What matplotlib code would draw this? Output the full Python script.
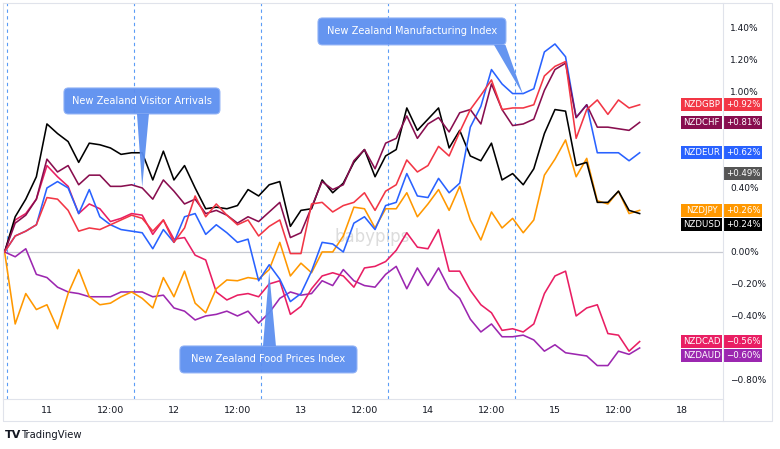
import numpy as np
import matplotlib.pyplot as plt
import matplotlib.transforms as mtransforms
from matplotlib.patches import Rectangle, Polygon, FancyBboxPatch
from matplotlib.lines import Line2D

# pas de 2 heures depuis le 10 a 16:00 ; x en jours depuis le 11 a 00:00
heures = np.arange(61) * 2 - 8
jours = heures / 24

nzdusd = [0.00, 0.22, 0.33, 0.47, 0.80, 0.74, 0.69, 0.56, 0.68, 0.67,
          0.65, 0.61, 0.62, 0.62, 0.45, 0.63, 0.45, 0.54, 0.40, 0.27,
          0.28, 0.27, 0.29, 0.39, 0.35, 0.42, 0.44, 0.16, 0.26, 0.27,
          0.45, 0.37, 0.43, 0.56, 0.64, 0.47, 0.60, 0.64, 0.90, 0.76,
          0.83, 0.90, 0.65, 0.76, 0.60, 0.57, 0.68, 0.45, 0.49, 0.42,
          0.52, 0.74, 0.89, 0.88, 0.54, 0.56, 0.31, 0.31, 0.38, 0.26,
          0.24]
nzdchf = [0.00, 0.18, 0.23, 0.33, 0.58, 0.50, 0.54, 0.42, 0.48, 0.48,
          0.41, 0.41, 0.42, 0.40, 0.33, 0.45, 0.38, 0.30, 0.33, 0.24,
          0.26, 0.23, 0.18, 0.22, 0.19, 0.25, 0.31, 0.09, 0.12, 0.28,
          0.44, 0.39, 0.42, 0.57, 0.64, 0.52, 0.68, 0.71, 0.85, 0.71,
          0.80, 0.84, 0.75, 0.87, 0.89, 0.80, 1.05, 0.89, 0.79, 0.80,
          0.83, 1.01, 1.14, 1.18, 0.84, 0.92, 0.78, 0.78, 0.77, 0.76,
          0.81]
nzdeur = [0.00, 0.10, 0.13, 0.17, 0.40, 0.44, 0.40, 0.24, 0.39, 0.22,
          0.17, 0.14, 0.13, 0.12, 0.02, 0.14, 0.06, 0.22, 0.24, 0.11,
          0.17, 0.12, 0.06, 0.08, -0.18, -0.08, -0.17, -0.31, -0.26, -0.12,
          0.06, 0.05, 0.00, 0.18, 0.22, 0.14, 0.29, 0.31, 0.49, 0.35,
          0.34, 0.46, 0.37, 0.43, 0.78, 0.91, 1.14, 1.05, 0.99, 0.99,
          1.02, 1.25, 1.30, 1.22, 0.84, 0.92, 0.62, 0.62, 0.62, 0.57,
          0.62]
nzdgbp = [0.00, 0.10, 0.13, 0.17, 0.34, 0.33, 0.26, 0.13, 0.15, 0.14,
          0.17, 0.20, 0.23, 0.21, 0.13, 0.20, 0.06, 0.15, 0.35, 0.22,
          0.30, 0.23, 0.17, 0.20, 0.10, 0.16, 0.20, -0.01, -0.01, 0.30,
          0.31, 0.25, 0.29, 0.31, 0.37, 0.26, 0.38, 0.42, 0.575, 0.50,
          0.54, 0.66, 0.60, 0.75, 0.89, 0.98, 1.075, 0.89, 0.90, 0.90,
          0.92, 1.10, 1.16, 1.19, 0.71, 0.89, 0.95, 0.86, 0.95, 0.90,
          0.92]
nzdcad = [0.00, 0.20, 0.24, 0.33, 0.54, 0.47, 0.41, 0.24, 0.30, 0.27,
          0.19, 0.21, 0.24, 0.23, 0.11, 0.20, 0.08, 0.09, -0.02, -0.05,
          -0.25, -0.30, -0.27, -0.26, -0.28, -0.20, -0.18, -0.39, -0.34, -0.23,
          -0.15, -0.13, -0.15, -0.22, -0.10, -0.09, -0.06, 0.01, 0.12, 0.03,
          0.02, 0.14, -0.12, -0.12, -0.24, -0.33, -0.38, -0.49, -0.48, -0.50,
          -0.45, -0.26, -0.15, -0.12, -0.40, -0.35, -0.33, -0.51, -0.52, -0.62,
          -0.56]
nzdjpy = [0.00, -0.45, -0.26, -0.36, -0.33, -0.48, -0.26, -0.11, -0.28, -0.33,
          -0.32, -0.28, -0.25, -0.29, -0.35, -0.16, -0.28, -0.12, -0.32, -0.38,
          -0.23, -0.175, -0.18, -0.16, -0.17, -0.11, 0.06, -0.15, -0.07, -0.13,
          0.00, 0.00, 0.10, 0.28, 0.27, 0.15, 0.27, 0.27, 0.37, 0.22,
          0.30, 0.39, 0.26, 0.41, 0.20, 0.075, 0.25, 0.15, 0.21, 0.12,
          0.20, 0.48, 0.58, 0.70, 0.47, 0.585, 0.32, 0.30, 0.38, 0.24,
          0.26]
nzdaud = [0.00, -0.03, 0.02, -0.14, -0.16, -0.22, -0.25, -0.26, -0.28, -0.28,
          -0.28, -0.25, -0.25, -0.25, -0.28, -0.27, -0.35, -0.37, -0.425, -0.40,
          -0.39, -0.37, -0.40, -0.37, -0.445, -0.38, -0.29, -0.25, -0.27, -0.26,
          -0.18, -0.21, -0.11, -0.18, -0.21, -0.22, -0.14, -0.09, -0.23, -0.10,
          -0.21, -0.10, -0.23, -0.29, -0.42, -0.50, -0.45, -0.53, -0.53, -0.52,
          -0.55, -0.62, -0.58, -0.63, -0.64, -0.65, -0.71, -0.71, -0.62, -0.64,
          -0.60]

noms = ["NZDAUD", "NZDCAD", "NZDJPY", "NZDUSD", "NZDEUR", "NZDCHF", "NZDGBP"]
series = [nzdaud, nzdcad, nzdjpy, nzdusd, nzdeur, nzdchf, nzdgbp]
couleurs = ["#9c27b0", "#e91e63", "#ff9800", "#000000", "#2962ff", "#880e4f", "#f23645"]
# decalage vertical des etiquettes (en %) pour eviter les chevauchements
decalage = [-0.048, 0.0, 0.0, -0.07, 0.0, 0.0, 0.0]
autre_val = 0.49  # boite grise sans nom

evenements = ["New Zealand Visitor Arrivals", "New Zealand Food Prices Index",
              "New Zealand Manufacturing Index"]
jours_evt = [0.75, 1.75, 3.75]

ticks_x = [0, 0.5, 1, 1.5, 2, 2.5, 3, 3.5, 4, 4.5, 5]
labels_x = ["11", "12:00", "12", "12:00", "13", "12:00", "14", "12:00", "15", "12:00", "18"]
ticks_y = [-0.8, -0.6, -0.4, -0.2, 0.0, 0.2, 0.4, 0.6, 0.8, 1.0, 1.2, 1.4]

W, H = 780, 449
fig = plt.figure(figsize=(W / 100, H / 100), dpi=100)
ax = fig.add_axes([3 / W, 50 / H, 720 / W, 396 / H])
ax.set_xlim(-0.346, 5.323)
ax.set_ylim(-0.919, 1.556)
for s in ax.spines.values():
    s.set_visible(False)

gris = "#e0e3eb"
# cadre
fig.add_artist(Line2D([3 / W, 772 / W, 772 / W, 3 / W, 3 / W],
                      [1 - 3 / H, 1 - 3 / H, 1 - 421 / H, 1 - 421 / H, 1 - 3 / H],
                      color=gris, lw=0.8, transform=fig.transFigure))
fig.add_artist(Line2D([723 / W, 723 / W], [1 - 3 / H, 1 - 421 / H], color=gris, lw=0.8,
                      transform=fig.transFigure))
fig.add_artist(Line2D([3 / W, 723 / W], [1 - 399 / H, 1 - 399 / H], color=gris, lw=0.8,
                      transform=fig.transFigure))

ax.axhline(0, color="#c8cad2", lw=0.9, zorder=1)
for j in np.arange(-0.3125, 4, 1.0):
    ax.axvline(j, color="#5b9cf6", lw=0.8, dashes=(3, 3), zorder=1)

ax.text(2.56, 0.094, "babypips", fontsize=12, color="#dcdcdc", ha="center", va="center",
        zorder=0.5)

for nom, val, c in zip(noms, series, couleurs):
    ax.plot(jours, val, color=c, lw=1.15, zorder=3)

# positions des etiquettes de fin
hb = 13 / 160
pos_etiq = [val[-1] + d for val, d in zip(series, decalage)] + [autre_val]

ax.set_xticks(ticks_x)
ax.set_xticklabels(labels_x)
ax.set_yticks(ticks_y)
labels_y = []
for v in ticks_y:
    cache = any(abs(v - p) < hb * 0.8 for p in pos_etiq)
    labels_y.append("" if cache else f"{v:.2f}%".replace("-", "\u2212"))
ax.set_yticklabels(labels_y)
ax.yaxis.tick_right()
ax.tick_params(axis="both", length=0, colors="#131722")
ax.tick_params(axis="x", pad=5, labelsize=6.8)
ax.tick_params(axis="y", pad=5, labelsize=6.5)

# etiquettes de fin de serie
trans = mtransforms.blended_transform_factory(ax.transAxes, ax.transData)
for nom, val, c, y in zip(noms, series, couleurs, pos_etiq):
    ax.add_patch(Rectangle((678 / 720, y - hb / 2), 41 / 720, hb, transform=trans,
                           facecolor=c, edgecolor="none", clip_on=False, zorder=6))
    ax.add_patch(Rectangle((721 / 720, y - hb / 2), 38 / 720, hb, transform=trans,
                           facecolor=c, edgecolor="none", clip_on=False, zorder=6))
    ax.text(698.5 / 720, y, nom, transform=trans, color="white", fontsize=6.2,
            ha="center", va="center", zorder=7, clip_on=False)
    ax.text(740 / 720, y, f"{val[-1]:+.2f}%".replace("-", "\u2212"), transform=trans,
            color="white", fontsize=6.2, ha="center", va="center", zorder=7, clip_on=False)
ax.add_patch(Rectangle((721 / 720, autre_val - hb / 2), 38 / 720, hb, transform=trans,
                       facecolor="#555555", edgecolor="none", clip_on=False, zorder=6))
ax.text(740 / 720, autre_val, f"{autre_val:+.2f}%", transform=trans, color="white",
        fontsize=6.2, ha="center", va="center", zorder=7, clip_on=False)

# bulles d'evenements
bleu = "#5d8ff0"
def bulle(texte, x0, x1, y0, y1, base, pointe):
    ax.add_patch(FancyBboxPatch((x0, y0), x1 - x0, y1 - y0,
                                boxstyle="round,pad=0,rounding_size=0.035",
                                mutation_aspect=0.79, facecolor=bleu,
                                edgecolor="#8fb1f6", lw=0.8, zorder=8, alpha=0.95))
    ax.add_patch(Polygon([base[0], base[1], pointe], closed=True, facecolor=bleu,
                         edgecolor="none", zorder=8, alpha=0.95))
    ax.text((x0 + x1) / 2, (y0 + y1) / 2, texte, color="white", fontsize=7.1,
            ha="center", va="center", zorder=9)

bulle(evenements[0], 0.134, 1.362, 0.8625, 1.025,
      [(0.709, 0.8625), (0.803, 0.8625)], (jours_evt[0], 0.406))
bulle(evenements[1], 1.047, 2.441, -0.756, -0.5875,
      [(1.701, -0.5875), (1.803, -0.5875)], (jours_evt[1], -0.125))
bulle(evenements[2], 2.134, 3.614, 1.294, 1.4625,
      [(3.52, 1.294), (3.61, 1.294)], (jours_evt[2], 0.981))

fig.text(5 / W, 1 - 435 / H, "TV", fontsize=8, fontweight="heavy", color="#131722",
         va="center", ha="left")
fig.text(21 / W, 1 - 435 / H, "TradingView", fontsize=7.2, color="#131722",
         va="center", ha="left")

fig.savefig("out.png", dpi=100, facecolor="white")
